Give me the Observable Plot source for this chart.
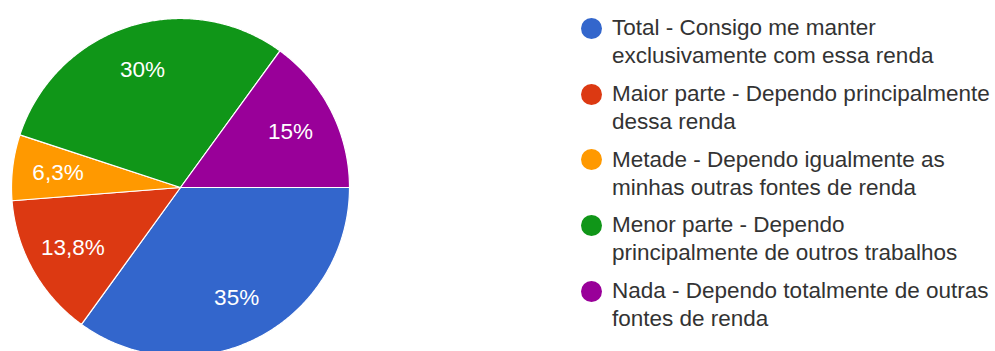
<!DOCTYPE html>
<html><head><meta charset="utf-8">
<script src="https://cdn.jsdelivr.net/npm/d3@7"></script>
<script src="https://cdn.jsdelivr.net/npm/@observablehq/plot@0.6"></script>
<style>
body{margin:0;background:#fff;font-family:"Liberation Sans",Arial,sans-serif;}
#wrap{display:flex;width:995px;height:351px;overflow:hidden;}
#legend{padding-top:14.2px;margin-left:52px;font-size:22.5px;line-height:28px;color:#333;}
.item{position:relative;white-space:pre;margin-bottom:9.75px;}
.dot{position:absolute;left:-31.5px;top:3.8px;width:21px;height:21px;border-radius:50%;}
</style></head><body><div id="wrap"><div id="chart"></div><div id="legend"></div></div>
<script>
const categories = [
  "Total - Consigo me manter\nexclusivamente com essa renda",
  "Maior parte - Dependo principalmente\ndessa renda",
  "Metade - Dependo igualmente as\nminhas outras fontes de renda",
  "Menor parte - Dependo\nprincipalmente de outros trabalhos",
  "Nada - Dependo totalmente de outras\nfontes de renda"
];
const values = [35, 13.8, 6.3, 30, 15];
const valueLabels = ["35%", "13,8%", "6,3%", "30%", "15%"];
const colors = ["#3366cc", "#dc3912", "#ff9900", "#109618", "#990099"];

const rows = categories.map((c, i) => ({cat: c, value: values[i], label: valueLabels[i]}));
const arcs = d3.pie().sort(null).value(d => d.value)
  .startAngle(Math.PI / 2).endAngle(Math.PI / 2 + 2 * Math.PI)(rows);

const points = [];
const labels = [];
for (const a of arcs) {
  const c = a.data.cat;
  points.push({cat: c, x: 0, y: 0});
  const n = Math.max(2, Math.ceil((a.endAngle - a.startAngle) / (Math.PI / 360)));
  for (let k = 0; k <= n; k++) {
    const t = a.startAngle + (a.endAngle - a.startAngle) * k / n;
    points.push({cat: c, x: Math.sin(t), y: Math.cos(t)});
  }
  points.push({cat: c, x: 0, y: 0});
  const m = (a.startAngle + a.endAngle) / 2;
  labels.push({cat: c, label: a.data.label, x: 0.73 * Math.sin(m), y: 0.73 * Math.cos(m)});
}

const R = 169, CX = 180, CY = 187, W = 560, H = 351;
const chart = Plot.plot({
  width: W, height: H, margin: 0,
  style: {fontFamily: "'Liberation Sans', Arial, sans-serif", background: "#fff"},
  x: {domain: [-CX / R, (W - CX) / R], axis: null},
  y: {domain: [-(H - CY) / R, CY / R], axis: null},
  color: {domain: categories, range: colors},
  marks: [
    Plot.line(points, {x: "x", y: "y", z: "cat", fill: "cat", stroke: "#fff", strokeWidth: 1.2, curve: "linear"}),
    Plot.text(labels, {x: "x", y: "y", text: "label", fill: "#fff", fontSize: 22.5})
  ]
});
document.getElementById("chart").appendChild(chart);

const color = chart.scale("color");
const legend = document.getElementById("legend");
for (const c of categories) {
  const item = document.createElement("div");
  item.className = "item";
  const dot = document.createElement("span");
  dot.className = "dot";
  dot.style.background = color.apply(c);
  item.appendChild(dot);
  item.appendChild(document.createTextNode(c));
  legend.appendChild(item);
}
</script>
</body></html>
